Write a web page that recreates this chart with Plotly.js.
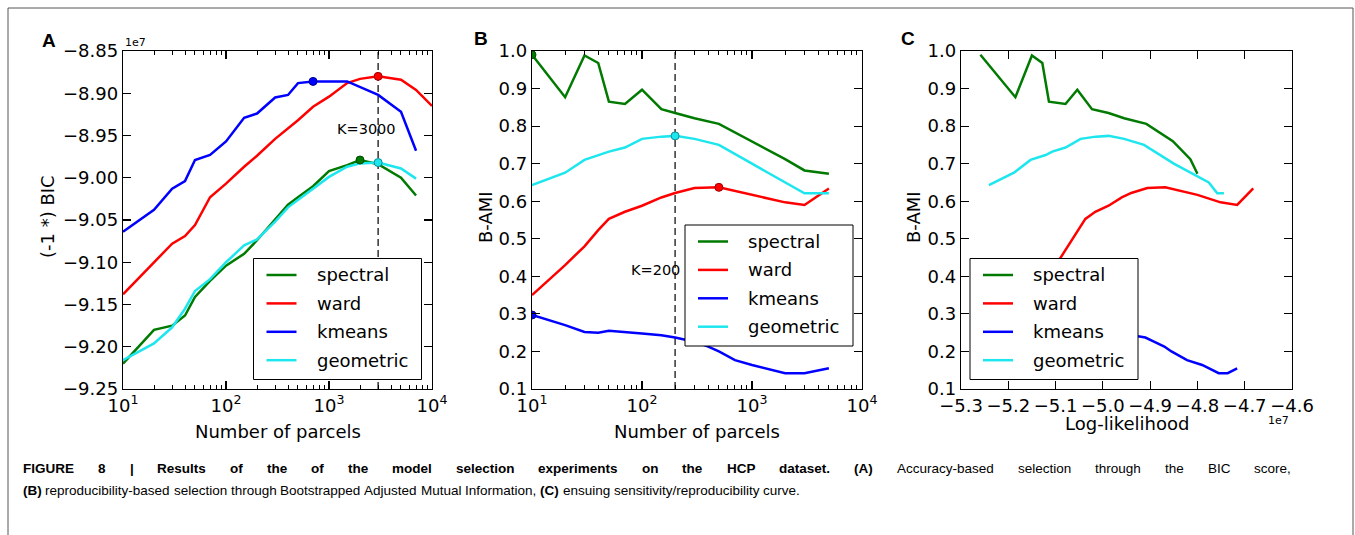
<!DOCTYPE html>
<html>
<head>
<meta charset="utf-8">
<script src="https://cdn.plot.ly/plotly-3.0.1.min.js"></script>
<style>
html,body{margin:0;padding:0;background:#fff;}
#chart{width:1355px;height:535px;}
</style>
</head>
<body>
<div id="chart"></div>
<script>
// ================= DATA =================
const methods = ['spectral', 'ward', 'kmeans', 'geometric'];

// Panel A : (-1 *) BIC (units of 1e7) vs number of parcels
const kA_spectral = [10,20,30,40,50,70,100,150,200,300,400,500,700,1000,1500,2000,3000,5000,7000];
const bicA_spectral = [-9.220,-9.180,-9.175,-9.163,-9.141,-9.122,-9.104,-9.090,-9.074,-9.050,-9.032,-9.023,-9.010,-8.992,-8.985,-8.979,-8.984,-9.000,-9.021];
const kA_ward = [10,20,30,40,50,70,100,150,200,300,400,500,700,1000,1500,2000,3000,5000,7000,10000];
const bicA_ward = [-9.138,-9.100,-9.078,-9.069,-9.056,-9.023,-9.007,-8.987,-8.974,-8.954,-8.942,-8.932,-8.916,-8.904,-8.888,-8.883,-8.880,-8.884,-8.896,-8.915];
const kA_kmeans = [10,20,30,40,50,70,100,150,200,300,400,500,700,1500,3000,5000,7000];
const bicA_kmeans = [-9.064,-9.038,-9.013,-9.004,-8.979,-8.973,-8.957,-8.929,-8.924,-8.905,-8.902,-8.888,-8.886,-8.886,-8.902,-8.922,-8.968];
const kA_geometric = [10,20,30,40,50,70,100,150,200,300,400,500,700,1000,1500,2000,3000,5000,7000];
const bicA_geometric = [-9.216,-9.196,-9.177,-9.155,-9.134,-9.120,-9.100,-9.080,-9.073,-9.052,-9.035,-9.026,-9.013,-8.999,-8.987,-8.983,-8.982,-8.989,-9.001];
const kSelectedA = 3000;
const bicRangeA = [-9.25, -8.85];

// Panel B : B-AMI vs number of parcels
const kB = [10,20,30,40,50,70,100,150,200,300,500,1000,2000,3000,5000];
const kB_kmeans = [10,20,30,40,50,70,100,150,200,300,400,500,700,1000,2000,3000,5000];
const amiB_spectral = [0.990,0.877,0.988,0.968,0.865,0.859,0.897,0.845,0.835,0.821,0.806,0.760,0.712,0.682,0.673];
const amiB_ward = [0.350,0.430,0.480,0.523,0.553,0.572,0.588,0.610,0.622,0.635,0.637,0.617,0.597,0.590,0.634];
const amiB_kmeans = [0.297,0.270,0.252,0.250,0.255,0.252,0.248,0.243,0.237,0.226,0.213,0.200,0.177,0.164,0.142,0.142,0.155];
const amiB_geometric = [0.643,0.676,0.710,0.723,0.732,0.743,0.766,0.772,0.774,0.766,0.750,0.700,0.650,0.621,0.621];
const kSelectedB = 200;
const amiRange = [0.1, 1.0];

// Panel C : B-AMI vs log-likelihood (units of 1e7)
const llC_spectral = [-5.259,-5.185,-5.150,-5.128,-5.114,-5.079,-5.054,-5.023,-4.988,-4.955,-4.908,-4.852,-4.815,-4.803,-4.800];
const llC_ward = [-5.140,-5.100,-5.075,-5.053,-5.037,-5.016,-4.988,-4.960,-4.940,-4.906,-4.868,-4.800,-4.751,-4.716,-4.682];
const llC_kmeans = [-5.120,-5.060,-5.030,-5.010,-4.995,-4.980,-4.960,-4.930,-4.910,-4.892,-4.870,-4.855,-4.822,-4.790,-4.755,-4.736,-4.716];
const llC_geometric = [-5.241,-5.188,-5.153,-5.121,-5.107,-5.079,-5.047,-5.015,-4.988,-4.955,-4.913,-4.850,-4.776,-4.758,-4.744];
const llRange = [-5.3, -4.6];

// Axis tick labels
const logTickVals = [10, 100, 1000, 10000];
const logTickText = ['10<sup>1</sup>', '10<sup>2</sup>', '10<sup>3</sup>', '10<sup>4</sup>'];
const kRange = [10, 10000];

// Caption
const captionLine1 = [
  {t: 'FIGURE 8 | Results of the of the model selection experiments on the HCP dataset.', b: true},
  {t: '(A)', b: true},
  {t: 'Accuracy-based selection through the BIC score,', b: false}
];
const captionLine2 = [
  {t: '(B)', b: true},
  {t: 'reproducibility-based selection through Bootstrapped Adjusted Mutual Information,', b: false},
  {t: '(C)', b: true},
  {t: 'ensuing sensitivity/reproducibility curve.', b: false}
];

// ================= STYLE / LAYOUT =================
const W = 1355, H = 535;
const px = x => x / W;
const py = y => 1 - y / H;
const colors = {spectral: '#007a00', ward: '#ff0000', kmeans: '#0000ff', geometric: '#1ee6ee'};
const markerEdge = {spectral: '#004d00', ward: '#990000', kmeans: '#00008f', geometric: '#0a8c92'};

const seriesA = {
  spectral: [kA_spectral, bicA_spectral], ward: [kA_ward, bicA_ward],
  kmeans: [kA_kmeans, bicA_kmeans], geometric: [kA_geometric, bicA_geometric]
};
const seriesB = {
  spectral: [kB, amiB_spectral], ward: [kB, amiB_ward],
  kmeans: [kB_kmeans, amiB_kmeans], geometric: [kB, amiB_geometric]
};
const seriesC = {
  spectral: [llC_spectral, amiB_spectral], ward: [llC_ward, amiB_ward],
  kmeans: [llC_kmeans, amiB_kmeans], geometric: [llC_geometric, amiB_geometric]
};

const traces = [];
function argmax(a) { let b = 0; for (let i = 1; i < a.length; i++) if (a[i] > a[b]) b = i; return b; }

function addPanel(series, xa, ya, withMarkers, kSel, yRange) {
  if (kSel !== null) {
    traces.push({x: [kSel, kSel], y: yRange, xaxis: xa, yaxis: ya, mode: 'lines',
      line: {color: '#333', width: 1.5, dash: '7px,4px'}, showlegend: false, hoverinfo: 'skip'});
  }
  methods.forEach(m => {
    traces.push({x: series[m][0], y: series[m][1], xaxis: xa, yaxis: ya, mode: 'lines', name: m,
      line: {color: colors[m], width: 2.5}, showlegend: false});
  });
  if (withMarkers) {
    methods.forEach(m => {
      const i = argmax(series[m][1]);
      traces.push({x: [series[m][0][i]], y: [series[m][1][i]], xaxis: xa, yaxis: ya, mode: 'markers',
        marker: {color: colors[m], size: 8, line: {color: markerEdge[m], width: 1}}, showlegend: false});
    });
  }
}
addPanel(seriesA, 'x', 'y', true, kSelectedA, bicRangeA);
addPanel(seriesB, 'x2', 'y2', true, kSelectedB, amiRange);
addPanel(seriesC, 'x3', 'y3', false, null, amiRange);

const tickFont = {family: 'DejaVu Sans', size: 18, color: '#000'};
const common = {showline: true, linecolor: '#000', linewidth: 1.2, mirror: 'allticks', ticks: 'inside',
  ticklen: 8, tickwidth: 1.1, tickcolor: '#000', showgrid: false, zeroline: false, tickfont: tickFont};
const minorVals = [];
for (let d = 1; d < 4; d++) for (let j = 2; j <= 9; j++) minorVals.push(j * Math.pow(10, d));
const logAxis = (dom, anchor) => Object.assign({}, common, {
  type: 'log', domain: dom, anchor: anchor, range: kRange.map(Math.log10),
  tickmode: 'array', tickvals: logTickVals, ticktext: logTickText,
  minor: {tickmode: 'array', tickvals: minorVals, ticks: 'inside', ticklen: 4, tickwidth: 1, tickcolor: '#000', showgrid: false}
});
const yDom = [py(389), py(51)];

const layout = {
  width: W, height: H, margin: {l: 0, r: 0, t: 0, b: 0},
  paper_bgcolor: '#fff', plot_bgcolor: '#fff', showlegend: false,
  font: {family: 'DejaVu Sans', color: '#000'},
  xaxis: logAxis([px(123), px(432)], 'y'),
  yaxis: Object.assign({}, common, {domain: yDom, anchor: 'x', range: bicRangeA, tickmode: 'linear', tick0: -9.25, dtick: 0.05, tickformat: '.2f'}),
  xaxis2: logAxis([px(532), px(862)], 'y2'),
  yaxis2: Object.assign({}, common, {domain: yDom, anchor: 'x2', range: amiRange, tickmode: 'linear', tick0: 0.1, dtick: 0.1, tickformat: '.1f'}),
  xaxis3: Object.assign({}, common, {domain: [px(961), px(1292)], anchor: 'y3', range: llRange, tickmode: 'linear', tick0: -5.3, dtick: 0.1, tickformat: '.1f'}),
  yaxis3: Object.assign({}, common, {domain: yDom, anchor: 'x3', range: amiRange, tickmode: 'linear', tick0: 0.1, dtick: 0.1, tickformat: '.1f'}),
  shapes: [],
  annotations: []
};

const ann = (x, y, text, opt) => Object.assign({xref: 'paper', yref: 'paper', x: px(x), y: py(y), text: text,
  showarrow: false, xanchor: 'center', yanchor: 'middle', font: {family: 'DejaVu Sans', size: 18, color: '#000'}}, opt || {});

// frame
layout.shapes.push({type: 'rect', xref: 'paper', yref: 'paper', x0: px(8), x1: px(1353), y0: py(545), y1: py(8),
  line: {color: '#555', width: 1}, fillcolor: 'rgba(0,0,0,0)', layer: 'below'});

// axis titles
layout.annotations.push(ann(47, 217, '(-1 *) BIC', {textangle: -90}));
layout.annotations.push(ann(485, 217, 'B-AMI', {textangle: -90}));
layout.annotations.push(ann(913, 217, 'B-AMI', {textangle: -90}));
layout.annotations.push(ann(277.5, 431, 'Number of parcels'));
layout.annotations.push(ann(697, 431, 'Number of parcels'));
layout.annotations.push(ann(1127, 423, 'Log-likelihood'));
// offsets
layout.annotations.push(ann(123, 42.5, '1e7', {xanchor: 'left', font: {family: 'DejaVu Sans', size: 11, color: '#000'}}));
layout.annotations.push(ann(1291, 420, '1e7', {xanchor: 'right', font: {family: 'DejaVu Sans', size: 11, color: '#000'}}));
// panel letters
const letterFont = {family: 'Liberation Sans', size: 19, color: '#000'};
layout.annotations.push(ann(49, 40, '<b>A</b>', {font: letterFont}));
layout.annotations.push(ann(481, 38.5, '<b>B</b>', {font: letterFont}));
layout.annotations.push(ann(908, 38.5, '<b>C</b>', {font: letterFont}));
// K labels
layout.annotations.push(ann(366, 129, 'K=' + kSelectedA, {font: {family: 'DejaVu Sans', size: 14.5, color: '#000'}}));
layout.annotations.push(ann(655, 270, 'K=' + kSelectedB, {font: {family: 'DejaVu Sans', size: 14.5, color: '#000'}}));

// legends
function addLegend(left, top) {
  layout.shapes.push({type: 'rect', xref: 'paper', yref: 'paper', x0: px(left), x1: px(left + 168), y0: py(top + 121), y1: py(top),
    line: {color: '#000', width: 1}, fillcolor: '#fff', layer: 'above'});
  methods.forEach((m, i) => {
    const yy = top + 16.5 + i * 28.4;
    layout.shapes.push({type: 'line', xref: 'paper', yref: 'paper', x0: px(left + 13), x1: px(left + 43), y0: py(yy), y1: py(yy),
      line: {color: colors[m], width: 2.5}, layer: 'above'});
    layout.annotations.push(ann(left + 62, yy, m, {xanchor: 'left', borderpad: 0}));
  });
}
addLegend(253.5, 258.5);
addLegend(685, 225);
addLegend(970, 258.5);

// caption
const capFontSize = 13.5;
const capFamily = 'Liberation Sans';
const cv = document.createElement('canvas').getContext('2d');
function measure(w, b) { cv.font = (b ? 'bold ' : '') + capFontSize + 'px "' + capFamily + '"'; return cv.measureText(w).width; }
function words(line) { const out = []; line.forEach(s => s.t.split(' ').forEach(w => out.push({w: w, b: s.b}))); return out; }
function placeLine(line, y, x0, x1) {
  const ws = words(line);
  const widths = ws.map(o => measure(o.w, o.b));
  const total = widths.reduce((a, b) => a + b, 0);
  const gap = x1 === null ? measure(' ', false) : (x1 - x0 - total) / (ws.length - 1);
  let cur = x0;
  ws.forEach((o, i) => {
    layout.annotations.push(ann(cur, y, o.b ? '<b>' + o.w + '</b>' : o.w,
      {xanchor: 'left', borderpad: 0, font: {family: capFamily, size: capFontSize, color: '#000'}}));
    cur += widths[i] + gap;
  });
}
placeLine(captionLine1, 468, 22, 1290);
placeLine(captionLine2, 490, 22, null);

Plotly.newPlot('chart', traces, layout, {displayModeBar: false, staticPlot: true});
</script>
</body>
</html>
